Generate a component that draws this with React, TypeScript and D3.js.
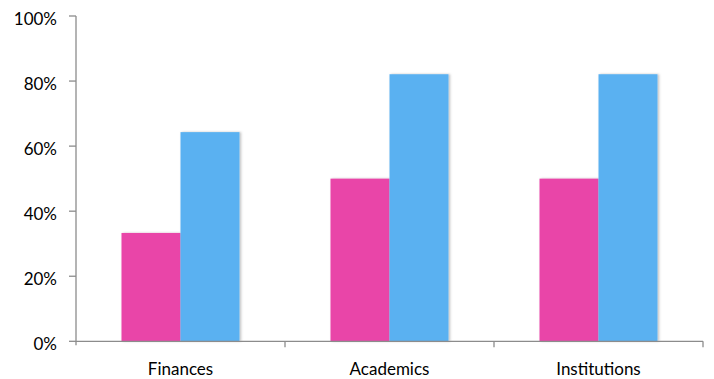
import React from "react";
import * as d3 from "d3";

const categories = ["Finances", "Academics", "Institutions"];
const seriesA = [33.3, 50, 50];
const seriesB = [64.3, 82.1, 82.1];
const yTicks = [0, 20, 40, 60, 80, 100];
const colors = ["#E945A8", "#5AB1F1"];

export default function App() {
  const W = 714, H = 379;
  const left = 76, right = 703, top = 16, bottom = 341.3;
  const x = d3.scaleBand<string>().domain(categories).range([left, right]).paddingInner(0).paddingOuter(0);
  const y = d3.scaleLinear().domain([0, 100]).range([bottom, top]);
  const bw = 59;
  const axisColor = "#8c8c8c";
  const font = "Lato, 'Open Sans', sans-serif";
  return (
    <svg width={W} height={H} style={{ position: "absolute", left: 0, top: 0 }}>
      <defs>
        <filter id="sh" x="-20%" y="-5%" width="140%" height="110%">
          <feDropShadow dx="1.5" dy="0" stdDeviation="1.2" floodColor="#000" floodOpacity="0.25" />
        </filter>
      </defs>
      {categories.map((c, i) => {
        const cx = (x(c) as number) + x.bandwidth() / 2;
        return (
          <g key={c} filter="url(#sh)">
            <rect x={cx - bw} y={y(seriesA[i])} width={bw} height={bottom - y(seriesA[i])} fill={colors[0]} />
            <rect x={cx} y={y(seriesB[i])} width={bw} height={bottom - y(seriesB[i])} fill={colors[1]} />
          </g>
        );
      })}
      <line x1={left} x2={left} y1={top} y2={bottom + 4} stroke={axisColor} strokeWidth={1.3} />
      <line x1={left} x2={right} y1={bottom} y2={bottom} stroke={axisColor} strokeWidth={1.3} />
      {yTicks.map((t) => (
        <g key={t}>
          <line x1={left - 7} x2={left} y1={y(t)} y2={y(t)} stroke={axisColor} strokeWidth={1.3} />
          <text x={left - 19} y={y(t) + 8.5} textAnchor="end" fontFamily={font} fontSize={17} fill="#000">
            {t}%
          </text>
        </g>
      ))}
      {categories.map((c) => (
        <line key={c} x1={(x(c) as number) + x.bandwidth()} x2={(x(c) as number) + x.bandwidth()} y1={bottom} y2={bottom + 6} stroke={axisColor} strokeWidth={1.3} />
      ))}
      {categories.map((c) => (
        <text key={c} x={(x(c) as number) + x.bandwidth() / 2} y={375} textAnchor="middle" fontFamily={font} fontSize={17} fill="#000">
          {c}
        </text>
      ))}
    </svg>
  );
}
